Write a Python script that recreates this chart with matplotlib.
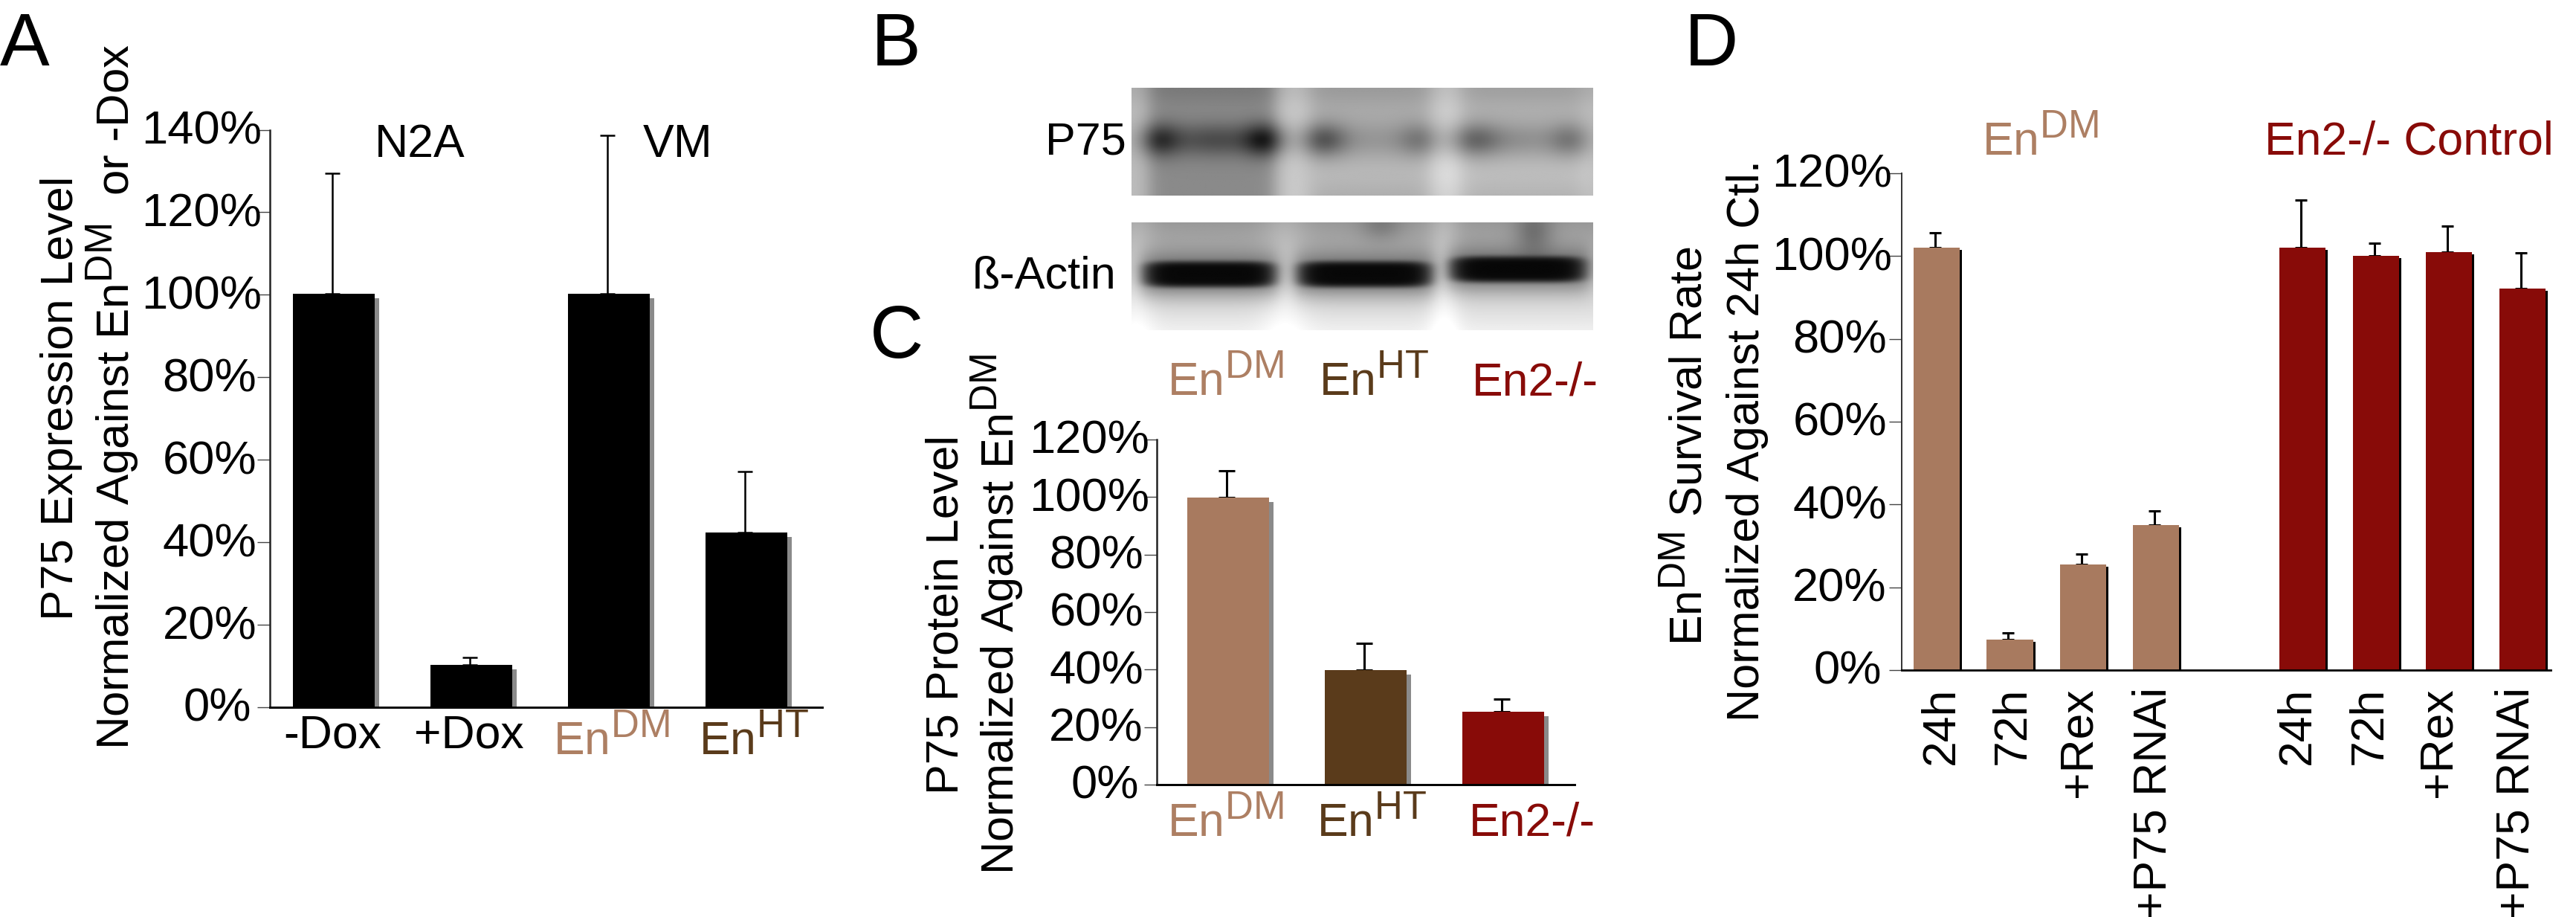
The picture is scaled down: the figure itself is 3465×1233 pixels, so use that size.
import numpy as np
import matplotlib
matplotlib.use("Agg")
import matplotlib.pyplot as plt
import matplotlib._mathtext as _mt
from matplotlib.transforms import Affine2D

_mt.SHRINK_FACTOR = 0.84

plt.rcParams['font.family'] = ['Liberation Sans', 'DejaVu Sans']
plt.rcParams['mathtext.fontset'] = 'custom'
plt.rcParams['mathtext.rm'] = 'Liberation Sans'
plt.rcParams['mathtext.default'] = 'regular'

W, H = 3466, 1233
BROWN = '#A87A5F'
BROWN_T = '#AD7F63'
DARK = '#5A3B1B'
RED = '#880B08'
EN_DM = r'En$^{\mathrm{DM}}$'
EN_HT = r'En$^{\mathrm{HT}}$'

# Panel A
a_labels = ['-Dox', '+Dox', EN_DM, EN_HT]
a_values = [100.3, 10.2, 100.3, 42.4]
a_errs = [29.1, 1.9, 38.3, 14.7]
a_ticks = [0, 20, 40, 60, 80, 100, 120, 140]

# Panel C
c_labels = [EN_DM, EN_HT, 'En2-/-']
c_values = [99.7, 39.9, 25.4]
c_errs = [9.4, 9.3, 4.3]
c_ticks = [0, 20, 40, 60, 80, 100, 120]

# Panel D
d_labels = ['24h', '72h', '+Rex', '+P75 RNAi', '24h', '72h', '+Rex', '+P75 RNAi']
d_slots = [0, 1, 2, 3, 5, 6, 7, 8]
d_values = [102.0, 7.3, 25.5, 35.0, 102.0, 100.0, 101.0, 92.2]
d_errs = [3.6, 1.7, 2.6, 3.4, 11.5, 3.2, 6.2, 8.6]
d_ticks = [0, 20, 40, 60, 80, 100, 120]

fig = plt.figure(figsize=(W / 100, H / 100), dpi=100, facecolor='white')


def axes_px(l, t, r, b):
    return fig.add_axes([l / W, 1 - b / H, (r - l) / W, (b - t) / H])


def text_px(x, y, s, **kw):
    kw.setdefault('va', 'baseline')
    kw.setdefault('ha', 'center')
    kw.setdefault('fontsize', 44)
    return fig.text(x / W, 1 - y / H, s, **kw)


def vtext_px(x, y, s, **kw):
    return text_px(x, y, s, rotation=90, rotation_mode='anchor', **kw)


def shift(artist, dx, dy):
    artist.set_transform(artist.get_transform() + Affine2D().translate(dx, dy))


def bars(ax, x, vals, errs, colors, width, shadow, off, elw, cap):
    ax.bar(x, vals, width=width, color=shadow, zorder=2,
           transform=ax.transData + Affine2D().translate(off, -off))
    ax.bar(x, vals, width=width, color=colors, zorder=3)
    ax.errorbar(x, vals, yerr=[np.zeros(len(vals)), errs], fmt='none', ecolor='black',
                elinewidth=elw, capsize=cap, capthick=elw, zorder=1.5,
                transform=ax.transData + Affine2D().translate(-2, 0))


def style(ax, yticks, edges, spine_lw, left_col='#222222'):
    ax.set_ylim(yticks[0], yticks[-1])
    ax.set_yticks(yticks, labels=[f'{v}%' for v in yticks], fontsize=45.5)
    ax.tick_params(axis='y', length=12, width=1.0, pad=0, color='#444444')
    ax.tick_params(axis='x', length=0, pad=0)
    for s in ('top', 'right'):
        ax.spines[s].set_visible(False)
    ax.spines['left'].set_linewidth(spine_lw)
    ax.spines['left'].set_color(left_col)
    ax.spines['bottom'].set_linewidth(spine_lw + 0.3)
    ax.spines['bottom'].set_zorder(5)
    ax.patch.set_alpha(0)
    anchor = ax.get_window_extent().x0 - 12 * 100 / 72
    for lab, v in zip(ax.get_yticklabels(), yticks):
        right = edges[2] if v == 0 else (edges[1] if v < 100 else edges[0])
        shift(lab, right - anchor, 4)


# ---------- Panel A ----------
axA = axes_px(363, 174.5, 1106, 951)
xa = np.arange(len(a_values))
axA.set_xlim(-0.465, 3.55)
bars(axA, xa, a_values, a_errs, 'black', 0.595, '#8A8A8A', 6, 1.8, 7)
style(axA, a_ticks, (352, 345, 338), 1.8)
axA.set_xticks(xa, labels=a_labels, fontsize=45)
for lab, col, dx, dy in zip(axA.get_xticklabels(), ['black', 'black', BROWN_T, DARK],
                            [-2, -3, 3, 10], [-55, -55, -63, -63]):
    lab.set_color(col)
    lab.set_verticalalignment('baseline')
    shift(lab, dx, dy)
text_px(565, 211, 'N2A', fontsize=45)
text_px(912, 211, 'VM', fontsize=45)
vtext_px(98, 535, 'P75 Expression Level', fontsize=44.5)
vtext_px(174, 533, 'Normalized Against ' + EN_DM + '  or -Dox', fontsize=44.5)

# ---------- Panel C ----------
axC = axes_px(1556, 591, 2118, 1055)
xc = np.arange(len(c_values))
axC.set_xlim(-0.52, 2.52)
bars(axC, xc, c_values, c_errs, [BROWN, DARK, RED], 0.595, '#8A8A8A', 6, 2.2, 8)
style(axC, c_ticks, (1546, 1538, 1532), 1.8)
axC.set_xticks(xc, labels=c_labels, fontsize=45)
for lab, col, dx in zip(axC.get_xticklabels(), [BROWN_T, DARK, RED], [-4, 8, 39]):
    lab.set_color(col)
    lab.set_verticalalignment('baseline')
    shift(lab, dx, -69)
vtext_px(1289, 826, 'P75 Protein Level', fontsize=44)
vtext_px(1364, 826, 'Normalized Against ' + EN_DM, fontsize=44)

# ---------- Panel D ----------
axD = axes_px(2558, 233, 3431, 901)
axD.set_xlim(-0.478, 8.39)
d_colors = [BROWN] * 4 + [RED] * 4
bars(axD, d_slots, d_values, d_errs, d_colors, 0.63, 'black', 3, 2.2, 6)
style(axD, d_ticks, (2545, 2538, 2531), 1.4, '#333333')
axD.spines['bottom'].set_linewidth(2.0)
axD.set_xticks(d_slots, labels=d_labels, fontsize=45, rotation=90)
for lab, dx in zip(axD.get_xticklabels(), [6, 4, -6, -3, -7, -8, -14, -8]):
    lab.set_verticalalignment('top')
    shift(lab, dx, -23)
text_px(2744, 208, EN_DM, color=BROWN_T, fontsize=45)
text_px(3240, 208, 'En2-/- Control', color=RED, fontsize=45)
vtext_px(2290, 600, EN_DM + ' Survival Rate', fontsize=44)
vtext_px(2366, 592, 'Normalized Against 24h Ctl.', fontsize=44)


# ---------- Panel B (blots) ----------
def box(x, a, b, soft):
    return 0.5 * (np.tanh((x - a) / soft) - np.tanh((x - b) / soft))


def gauss(u, c, s):
    return np.exp(-0.5 * ((u - c) / s) ** 2)


p75_lanes = [(100, 480, 0.20), (590, 945, 0.07), (1040, 1400, 0.05)]
p75_spots = [(130, 45, 0.30), (300, 110, 0.24), (450, 45, 0.36),
             (625, 50, 0.30), (780, 130, 0.08), (915, 45, 0.16),
             (1080, 55, 0.24), (1220, 110, 0.12), (1370, 45, 0.18)]
actin_lanes = [(100, 465, 805), (565, 935, 805), (1025, 1400, 785)]


def blot_p75():
    yy, xx = np.mgrid[55:490:2.0, 48:1440:2.0]
    img = 0.74 - 0.06 * gauss(yy, 55, 45)
    img = img + 0.07 * gauss(xx, 1000, 40) + 0.05 * gauss(xx, 535, 40)
    for a, b, d in p75_lanes:
        img = img - d * box(xx, a, b, 30)
    for c, s, d in p75_spots:
        img = img - d * gauss(xx, c, s) * gauss(yy, 265, 48)
    img = img + 0.05 * gauss(yy, 400, 60) * box(xx, 590, 1440, 30)
    return np.clip(img, 0, 1)


def blot_actin():
    yy, xx = np.mgrid[598:1030:2.0, 48:1440:2.0]
    img = 0.60 + 0.34 * (yy - 598) / 432
    img = img + 0.08 * gauss(xx, 510, 50) + 0.10 * gauss(xx, 990, 35) + 0.08 * gauss(xx, 60, 40)
    img = img - 0.12 * gauss(xx, 800, 45) * gauss(yy, 610, 45) - 0.18 * gauss(xx, 1260, 40) * gauss(yy, 640, 70)
    for a, b, c in actin_lanes:
        mid, half = (a + b) / 2, (b - a) / 2
        rounded = np.abs((xx - mid) / (half + 12)) ** 6 + np.abs((yy - c) / 52) ** 4
        halo = box(xx, a - 25, b + 25, 30) * np.exp(-((yy - c) / 85) ** 2)
        img = img * (1 - 0.5 * halo)
        img = img * (1 - 0.92 * np.exp(-rounded ** 1.5))
    return np.clip(img, 0, 1)


for (l, t, r, b), maker in [((1522, 118, 2143, 263), blot_p75), ((1522, 299, 2143, 444), blot_actin)]:
    axb = axes_px(l, t, r, b)
    axb.imshow(maker(), cmap='gray', vmin=0, vmax=1, aspect='auto', interpolation='bilinear')
    axb.axis('off')

text_px(1515, 208, 'P75', ha='right')
text_px(1502, 388, 'ß-Actin', ha='right')
text_px(1648, 531, EN_DM, color=BROWN_T, fontsize=45)
text_px(1848, 531, EN_HT, color=DARK, fontsize=45)
text_px(2065, 531, 'En2-/-', color=RED, fontsize=45)

# ---------- Panel letters ----------
text_px(0, 88, 'A', ha='left', fontsize=72)
text_px(1172, 88, 'B', ha='left', fontsize=72)
text_px(1170, 481, 'C', ha='left', fontsize=72)
text_px(2266, 88, 'D', ha='left', fontsize=72)

fig.savefig('out.png', dpi=100, facecolor='white')
